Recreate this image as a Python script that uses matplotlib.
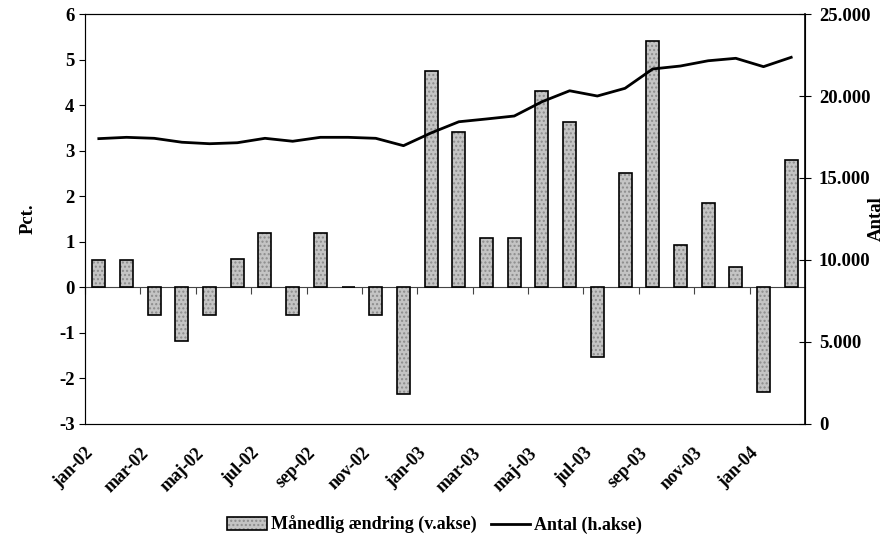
import numpy as np
import matplotlib
matplotlib.use("Agg")
from matplotlib import pyplot as plt

plt.rcParams['font.family'] = ['Liberation Serif', 'DejaVu Serif']
plt.rcParams['font.weight'] = 'bold'
plt.rcParams['axes.unicode_minus'] = False

maaneder = ['jan-02', 'feb-02', 'mar-02', 'apr-02', 'maj-02', 'jun-02',
            'jul-02', 'aug-02', 'sep-02', 'okt-02', 'nov-02', 'dec-02',
            'jan-03', 'feb-03', 'mar-03', 'apr-03', 'maj-03', 'jun-03',
            'jul-03', 'aug-03', 'sep-03', 'okt-03', 'nov-03', 'dec-03',
            'jan-04', 'feb-04']
# maanedlig aendring i pct. (venstre akse)
aendring = [0.59, 0.59, -0.6, -1.19, -0.6, 0.62, 1.2, -0.6, 1.2, 0.0, -0.6, -2.35,
            4.75, 3.41, 1.09, 1.09, 4.31, 3.62, -1.52, 2.51, 5.41, 0.92, 1.85, 0.44,
            -2.3, 2.8]
# antal (hoejre akse)
antal = [17400, 17480, 17420, 17180, 17090, 17150, 17420, 17240, 17480, 17480, 17420, 16970,
         17750, 18430, 18600, 18780, 19650, 20320, 20000, 20470, 21650, 21830, 22150, 22300,
         21790, 22360]

x = np.arange(len(maaneder)) + 0.5

fig = plt.figure(figsize=(8.87, 5.40), dpi=100)
ax = fig.add_axes([0.0958, 0.215, 0.8118, 0.759])
ax2 = ax.twinx()

bars = ax.bar(x, aendring, width=0.47, color='#c4c4c4', edgecolor='black',
              linewidth=1.2, hatch='....', label='Månedlig ændring (v.akse)', zorder=2)
for b in bars:
    b._hatch_color = (0.55, 0.55, 0.55, 1.0)

ax.set_xlim(0, len(maaneder))
ax.set_ylim(-3, 6)
ax.set_yticks(range(-3, 7))
ax.set_xticks(range(0, len(maaneder) - 1, 2))
ax.set_xticklabels(maaneder[0:len(maaneder) - 1:2], rotation=45, ha='right',
                   rotation_mode='anchor', fontsize=13, fontweight='bold')
ax.tick_params(axis='x', length=0, pad=15)
ax.tick_params(axis='y', labelsize=13.5, length=4, direction='out')
ax.set_ylabel('Pct.', fontsize=13.5, fontweight='bold', labelpad=16)

# nul-linje med tick-markeringer
sec = ax.secondary_xaxis(1.0 / 3.0)
sec.set_xticks(range(0, len(maaneder) - 1, 2))
sec.tick_params(axis='x', direction='out', length=5, labelbottom=False, labeltop=False,
                color='#444444')
sec.spines['bottom'].set_color('#444444')

for s in ['left', 'bottom']:
    ax.spines[s].set_color('#555555')
ax.spines['top'].set_color('black')

line, = ax2.plot(x, antal, color='black', linewidth=2.0, label='Antal (h.akse)', zorder=3)
ax2.set_ylim(0, 25000)
ax2.set_yticks(range(0, 25001, 5000))
ax2.set_yticklabels(['0', '5.000', '10.000', '15.000', '20.000', '25.000'])
ax2.tick_params(axis='y', labelsize=13.5, length=8, direction='inout', pad=6)
ax2.set_ylabel('Antal', fontsize=13.5, fontweight='bold')
ax2.yaxis.set_label_coords(1.087, 0.5)
ax2.spines['right'].set_linewidth(1.2)

fig.legend([bars, line], ['Månedlig ændring (v.akse)', 'Antal (h.akse)'],
           loc='center', bbox_to_anchor=(0.49, 0.028), ncol=2, frameon=False,
           fontsize=13, handlelength=2.2, handletextpad=0.2, columnspacing=0.8)

plt.savefig('out.png', dpi=100)
